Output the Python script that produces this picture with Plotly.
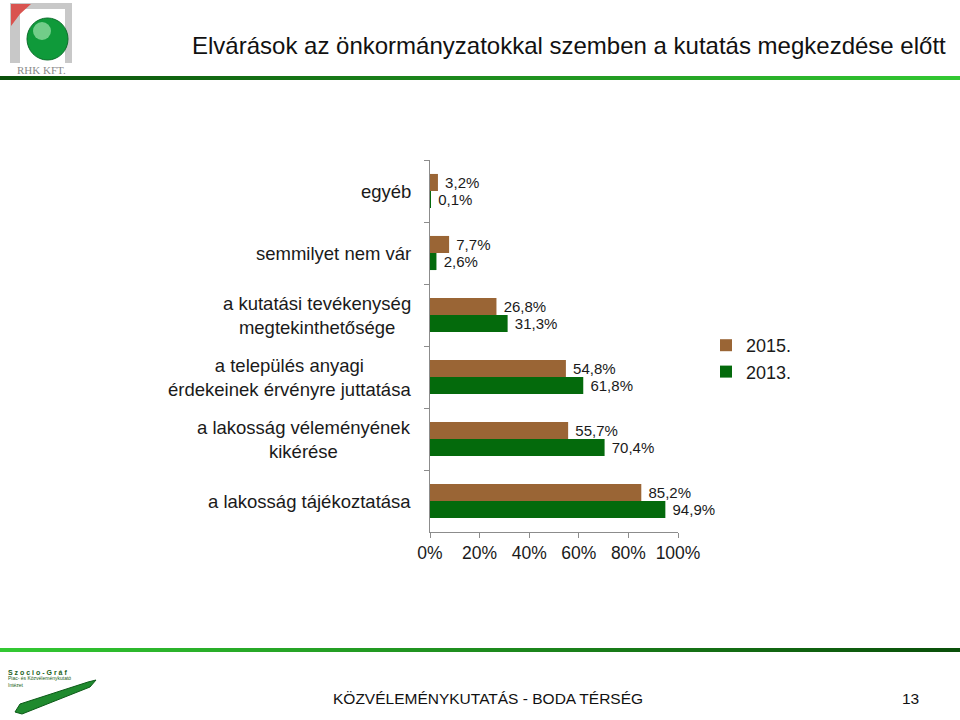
import plotly.graph_objects as go

W, H = 960, 720

categories = [
    "egyéb",
    "semmilyet nem vár",
    "a kutatási tevékenység<br>megtekinthetősége",
    "a település anyagi<br>érdekeinek érvényre juttatása",
    "a lakosság véleményének<br>kikérése",
    "a lakosság tájékoztatása",
]
values_2015 = [3.2, 7.7, 26.8, 54.8, 55.7, 85.2]
values_2013 = [0.1, 2.6, 31.3, 61.8, 70.4, 94.9]
series_names = ["2015.", "2013."]
x_tickvals = [0, 20, 40, 60, 80, 100]
x_ticktext = ["0%", "20%", "40%", "60%", "80%", "100%"]

title_text = "Elvárások az önkormányzatokkal szemben a kutatás megkezdése előtt"
footer_text = "KÖZVÉLEMÉNYKUTATÁS - BODA TÉRSÉG"
page_no = "13"

BROWN = "#9A6535"
GREEN = "#046A0C"
FONT = "Liberation Sans, Arial, sans-serif"


def px(x):
    return x / W


def py(y):
    return 1 - y / H


def fmt(v):
    return "\u00a0" + f"{v:.1f}".replace(".", ",") + "%"


fig = go.Figure()
for name, vals, col in [(series_names[0], values_2015, BROWN), (series_names[1], values_2013, GREEN)]:
    fig.add_trace(go.Bar(
        y=categories, x=vals, orientation="h", name=name,
        marker=dict(color=col, line=dict(width=0)),
        text=[fmt(v) for v in vals], textposition="outside",
        textfont=dict(size=15, color="#1a1a1a", family=FONT),
        cliponaxis=False, constraintext="none",
    ))

shapes = []


def gradient_bar(y0, y1, c_left, c_right, n=48):
    for i in range(n):
        t = i / (n - 1)
        r = int(c_left[0] + (c_right[0] - c_left[0]) * t)
        g = int(c_left[1] + (c_right[1] - c_left[1]) * t)
        b = int(c_left[2] + (c_right[2] - c_left[2]) * t)
        shapes.append(dict(type="rect", xref="paper", yref="paper",
                           x0=i / n, x1=min(1.0, (i + 1) / n + 0.0005),
                           y0=py(y1), y1=py(y0), line=dict(width=0),
                           fillcolor=f"rgb({r},{g},{b})", layer="below"))


gradient_bar(76, 80, (10, 80, 10), (50, 200, 50))
gradient_bar(648, 652, (50, 200, 50), (10, 80, 10))

# RHK logo (top-left)
shapes.append(dict(type="rect", xref="paper", yref="paper", x0=px(10), x1=px(72), y0=py(63), y1=py(3),
                   fillcolor="#c8c8c8", line=dict(width=0)))
shapes.append(dict(type="rect", xref="paper", yref="paper", x0=px(20), x1=px(65), y0=py(63), y1=py(9),
                   fillcolor="white", line=dict(width=0)))
shapes.append(dict(type="path", xref="paper", yref="paper",
                   path=f"M {px(11)},{py(4)} L {px(31)},{py(4)} L {px(20)},{py(14)} L {px(11)},{py(26)} Z",
                   fillcolor="#d9534f", line=dict(width=0)))
shapes.append(dict(type="circle", xref="paper", yref="paper", x0=px(27), x1=px(68), y0=py(60), y1=py(18),
                   fillcolor="#0f9a3a", line=dict(color="#0b6e2a", width=1)))
shapes.append(dict(type="circle", xref="paper", yref="paper", x0=px(33), x1=px(51), y0=py(40), y1=py(22),
                   fillcolor="rgba(180,240,190,0.6)", line=dict(width=0)))

# Szocio-Graf pen logo (bottom-left)
shapes.append(dict(type="path", xref="paper", yref="paper",
                   path=(f"M {px(15)},{py(712)} L {px(20)},{py(704)} L {px(88)},{py(682)} "
                         f"L {px(96)},{py(680)} L {px(90)},{py(687)} L {px(22)},{py(714)} Z"),
                   fillcolor="#1f8a2e", line=dict(color="#0c5a18", width=1)))

annotations = []
for c in categories:
    annotations.append(dict(x=px(413), xref="paper", y=c, yref="y", text=c, showarrow=False,
                            xanchor="right", yanchor="middle", align="center",
                            font=dict(size=18.5, color="#1a1a1a", family=FONT)))

annotations += [
    dict(x=px(190), y=py(45), xref="paper", yref="paper", text=title_text, showarrow=False,
         xanchor="left", yanchor="middle", font=dict(size=24, color="#111111", family=FONT)),
    dict(x=px(488), y=py(698), xref="paper", yref="paper", text=footer_text, showarrow=False,
         xanchor="center", yanchor="middle", font=dict(size=15.5, color="#111111", family=FONT)),
    dict(x=px(910), y=py(698), xref="paper", yref="paper", text=page_no, showarrow=False,
         xanchor="center", yanchor="middle", font=dict(size=15.5, color="#111111", family=FONT)),
    dict(x=px(41), y=py(70), xref="paper", yref="paper", text="RHK KFT.", showarrow=False,
         xanchor="center", yanchor="middle", font=dict(size=11, color="#8a8a8a", family="Liberation Serif, serif")),
    dict(x=px(6), y=py(672), xref="paper", yref="paper", text="<b>S z o c i o - G r á f</b>", showarrow=False,
         xanchor="left", yanchor="middle", font=dict(size=7, color="#1b5e20", family=FONT)),
    dict(x=px(6), y=py(681), xref="paper", yref="paper", text="Piac- és Közvéleménykutató<br>Intézet",
         showarrow=False, xanchor="left", yanchor="middle", align="left",
         font=dict(size=5, color="#1b5e20", family=FONT)),
]

fig.update_layout(
    width=W, height=H, autosize=False,
    margin=dict(l=0, r=0, t=0, b=0, pad=0, autoexpand=False),
    paper_bgcolor="white", plot_bgcolor="white",
    barmode="group", bargap=0.45, bargroupgap=0,
    showlegend=True,
    legend=dict(x=px(706), y=py(327), xanchor="left", yanchor="top",
                font=dict(size=18, color="#1a1a1a", family=FONT),
                bgcolor="rgba(0,0,0,0)", traceorder="normal"),
    xaxis=dict(domain=[px(430), px(678)], range=[0, 100], tickvals=x_tickvals, ticktext=x_ticktext,
               automargin=False,
               showgrid=False, zeroline=False, showline=True, linecolor="#8c8c8c", linewidth=1,
               ticks="outside", ticklen=5, tickcolor="#8c8c8c",
               tickfont=dict(size=17.5, color="#1a1a1a", family=FONT), fixedrange=True),
    yaxis=dict(domain=[py(532), py(160)], autorange="reversed", type="category",
               automargin=False,
               showticklabels=False, showgrid=False, zeroline=False, showline=True,
               linecolor="#8c8c8c", linewidth=1, ticks="outside", ticklen=5, tickcolor="#8c8c8c",
               tickson="boundaries"),
    shapes=shapes,
    annotations=annotations,
)

fig.write_html("out.html")
